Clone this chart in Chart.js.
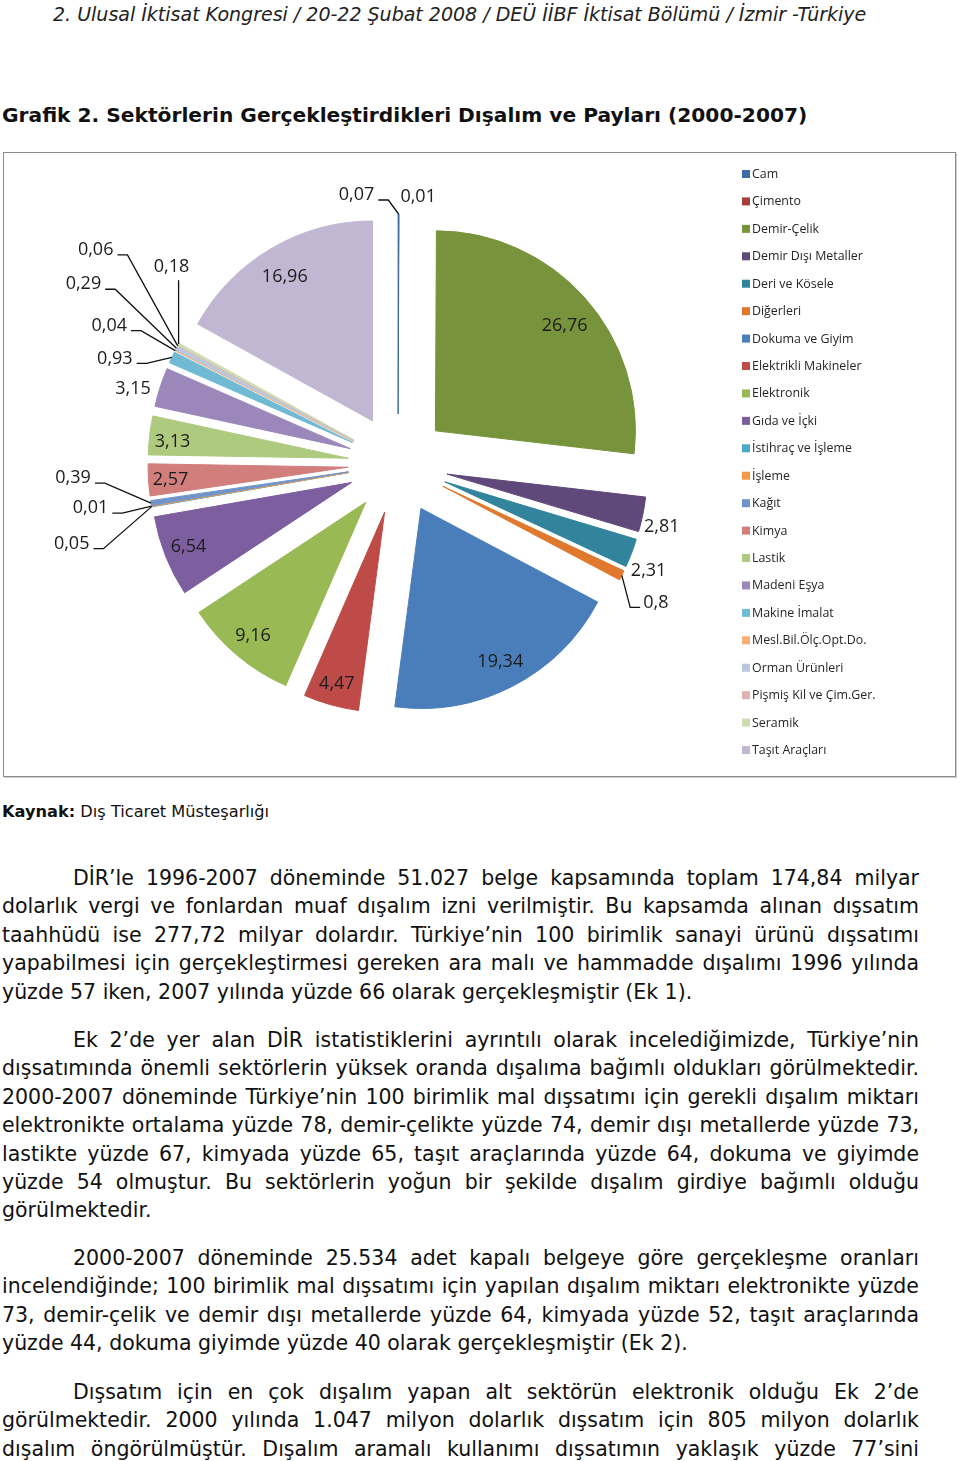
<!DOCTYPE html>
<html lang="tr">
<head>
<meta charset="utf-8">
<script src="https://cdn.jsdelivr.net/npm/chart.js@4.4.1/dist/chart.umd.min.js"></script>
<style>
  html,body{margin:0;padding:0;background:#fff;}
  body{width:960px;height:1461px;position:relative;overflow:hidden;font-family:"DejaVu Sans",Verdana,sans-serif;color:#111;}
  .abs{position:absolute;white-space:nowrap;}
  #head{left:53px;top:2px;font-size:19px;line-height:24px;font-style:italic;color:#222;}
  #title{left:2px;top:102px;font-size:20.2px;line-height:26px;font-weight:bold;}
  #frame{position:absolute;left:3px;top:152px;width:951px;height:623px;border:1px solid #8c8c8c;box-shadow:1px 1px 0 #cfcfcf;}
  #frame canvas{position:absolute;left:0;top:0;}
  #src{left:2px;top:801px;font-size:16.2px;line-height:22px;}
  .par{position:absolute;left:2px;width:917px;font-size:20.5px;line-height:28.4px;}
  .par div{white-space:nowrap;text-align:justify;text-align-last:justify;}
  .par div.first{padding-left:71px;}
  .par div.last{text-align-last:left;}
</style>
</head>
<body>
<div id="head" class="abs">2. Ulusal İktisat Kongresi / 20-22 Şubat 2008 / DEÜ İİBF İktisat Bölümü / İzmir -Türkiye</div>
<div id="title" class="abs">Grafik 2. Sektörlerin Gerçekleştirdikleri Dışalım ve Payları (2000-2007)</div>

<div id="frame"><canvas id="pie" width="951" height="623"></canvas></div>

<div id="src" class="abs"><b>Kaynak:</b> Dış Ticaret Müsteşarlığı</div>

<div class="par" style="top:864px">
  <div class="first">DİR’le 1996-2007 döneminde 51.027 belge kapsamında toplam 174,84 milyar</div>
  <div>dolarlık vergi ve fonlardan muaf dışalım izni verilmiştir. Bu kapsamda alınan dışsatım</div>
  <div>taahhüdü ise 277,72 milyar dolardır. Türkiye’nin 100 birimlik sanayi ürünü dışsatımı</div>
  <div>yapabilmesi için gerçekleştirmesi gereken ara malı ve hammadde dışalımı 1996 yılında</div>
  <div class="last">yüzde 57 iken, 2007 yılında yüzde 66 olarak gerçekleşmiştir (Ek 1).</div>
</div>
<div class="par" style="top:1026px">
  <div class="first">Ek 2’de yer alan DİR istatistiklerini ayrıntılı olarak incelediğimizde, Türkiye’nin</div>
  <div>dışsatımında önemli sektörlerin yüksek oranda dışalıma bağımlı oldukları görülmektedir.</div>
  <div>2000-2007 döneminde Türkiye’nin 100 birimlik mal dışsatımı için gerekli dışalım miktarı</div>
  <div>elektronikte ortalama yüzde 78, demir-çelikte yüzde 74, demir dışı metallerde yüzde 73,</div>
  <div>lastikte yüzde 67, kimyada yüzde 65, taşıt araçlarında yüzde 64, dokuma ve giyimde</div>
  <div>yüzde 54 olmuştur. Bu sektörlerin yoğun bir şekilde dışalım girdiye bağımlı olduğu</div>
  <div class="last">görülmektedir.</div>
</div>
<div class="par" style="top:1244px">
  <div class="first">2000-2007 döneminde 25.534 adet kapalı belgeye göre gerçekleşme oranları</div>
  <div>incelendiğinde; 100 birimlik mal dışsatımı için yapılan dışalım miktarı elektronikte yüzde</div>
  <div>73, demir-çelik ve demir dışı metallerde yüzde 64, kimyada yüzde 52, taşıt araçlarında</div>
  <div class="last">yüzde 44, dokuma giyimde yüzde 40 olarak gerçekleşmiştir (Ek 2).</div>
</div>
<div class="par" style="top:1378px">
  <div class="first">Dışsatım için en çok dışalım yapan alt sektörün elektronik olduğu Ek 2’de</div>
  <div>görülmektedir. 2000 yılında 1.047 milyon dolarlık dışsatım için 805 milyon dolarlık</div>
  <div>dışalım öngörülmüştür. Dışalım aramalı kullanımı dışsatımın yaklaşık yüzde 77’sini</div>
</div>

<script>
// --- data (shares in %, 2000-2007) ---
const sectors = ["Cam","Çimento","Demir-Çelik","Demir Dışı Metaller","Deri ve Kösele","Diğerleri",
  "Dokuma ve Giyim","Elektrikli Makineler","Elektronik","Gıda ve İçki","İstihraç ve İşleme","İşleme",
  "Kağıt","Kimya","Lastik","Madeni Eşya","Makine İmalat","Mesl.Bil.Ölç.Opt.Do.","Orman Ürünleri",
  "Pişmiş Kil ve Çim.Ger.","Seramik","Taşıt Araçları"];
const shares = [0.07, 0.01, 26.76, 2.81, 2.31, 0.8, 19.34, 4.47, 9.16, 6.54, 0.05, 0.01,
  0.39, 2.57, 3.13, 3.15, 0.93, 0.04, 0.29, 0.06, 0.18, 16.96];

const colors = ["#3d6ba6","#a43f3c","#77933c","#5f497a","#31849b","#e0782d",
  "#4a7ebb","#be4b48","#98b954","#7d5fa0","#4aacc5","#f79646",
  "#7094c9","#d27e7c","#aeca7e","#9b87ba","#70bbd3","#f9ad72",
  "#b7c8e0","#e2b3b2","#cdddb3","#c1b7d3"];

// label placement per slice: r = fraction of radius along bisector (+ optional sx/sy nudge),
// dx/dy = offset from the slice tip, with a leader line on the given side
const labelLayout = [
  {dx:-42,dy:-19,side:"left"}, {dx:19,dy:-17,side:"none"}, {r:0.85,sx:2,sy:8}, {dx:19,dy:12,side:"none"},
  {dx:17,dy:18,side:"none"}, {dx:34,dy:27,side:"right"}, {r:0.865}, {r:0.89}, {r:0.876}, {r:0.877},
  {dx:-80,dy:37,side:"left"}, {dx:-61,dy:2,side:"left"}, {dx:-78,dy:-25,side:"left"},
  {r:0.89,sy:1}, {r:0.885,sy:4}, {dx:-27,dy:2,side:"none"},
  {dx:-57,dy:1,side:"left"}, {dx:-66,dy:-25,side:"left"}, {dx:-93,dy:-64,side:"left"},
  {dx:-82,dy:-96,side:"left"}, {dx:-7,dy:-77,side:"above"}, {r:0.845,sx:-2,sy:2}
];

const EXPLODE = 50;
const fmt = v => String(v).replace(".", ",");

// push every slice out along its bisector (Excel style exploded pie)
const explodePlugin = {
  id: "explode",
  afterDatasetsUpdate(chart){
    const meta = chart.getDatasetMeta(0);
    const area = chart.chartArea;
    const cx = (area.left + area.right)/2 + meta.controller.offsetX;
    const cy = (area.top + area.bottom)/2 + meta.controller.offsetY;
    meta.data.forEach(arc => {
      const mid = (arc.startAngle + arc.endAngle)/2;
      arc.x = cx + Math.cos(mid)*EXPLODE;
      arc.y = cy + Math.sin(mid)*EXPLODE;
    });
  }
};

const labelPlugin = {
  id: "sliceLabels",
  afterDatasetsDraw(chart){
    const ctx = chart.ctx;
    const meta = chart.getDatasetMeta(0);
    ctx.save();
    ctx.font = '18px "Open Sans", sans-serif';
    ctx.textAlign = "center";
    ctx.textBaseline = "middle";
    ctx.fillStyle = "#1c1c1c";
    ctx.strokeStyle = "#111";
    ctx.lineWidth = 1.3;
    meta.data.forEach((arc, i) => {
      const mid = (arc.startAngle + arc.endAngle)/2;
      const c = Math.cos(mid), s = Math.sin(mid);
      const R = arc.outerRadius;
      const txt = fmt(shares[i]);
      const lay = labelLayout[i];
      let lx, ly;
      if(lay.r !== undefined){
        lx = arc.x + c*R*lay.r + (lay.sx || 0);
        ly = arc.y + s*R*lay.r + (lay.sy || 0);
      } else {
        const tx = arc.x + c*R, ty = arc.y + s*R;
        lx = tx + lay.dx;
        ly = ty + lay.dy;
        const w = ctx.measureText(txt).width;
        ctx.beginPath();
        if(lay.side === "left"){
          const ax = lx + w/2 + 4, ay = ly + 5;
          ctx.moveTo(ax, ay); ctx.lineTo(ax + 10, ay); ctx.lineTo(tx, ty);
        } else if(lay.side === "right"){
          const ax = lx - w/2 - 3, ay = ly + 5;
          ctx.moveTo(ax, ay); ctx.lineTo(ax - 10, ay); ctx.lineTo(tx, ty);
        } else if(lay.side === "above"){
          ctx.moveTo(tx, ly + 13); ctx.lineTo(tx, ty);
        }
        ctx.stroke();
      }
      ctx.fillText(txt, lx, ly);
    });
    ctx.restore();
  }
};

// legend column on the right
const legendPlugin = {
  id: "sideLegend",
  afterDraw(chart){
    const ctx = chart.ctx;
    const x0 = 738, y0 = 21, step = 27.43;
    ctx.save();
    ctx.font = '12.4px "Open Sans", sans-serif';
    ctx.textBaseline = "middle";
    chart.data.labels.forEach((lab, i) => {
      const y = y0 + i*step;
      ctx.fillStyle = chart.data.datasets[0].backgroundColor[i];
      ctx.fillRect(x0, y - 4, 8, 8);
      ctx.fillStyle = "#262626";
      ctx.fillText(lab, x0 + 10, y + 0.5);
    });
    ctx.restore();
  }
};

new Chart(document.getElementById("pie").getContext("2d"), {
  type: "pie",
  data: {
    labels: sectors,
    datasets: [{
      data: shares, backgroundColor: colors, borderColor: colors, radius: 200,
      borderWidth: c => c.dataIndex === 1 ? 0 : 1
    }]
  },
  options: {
    responsive: false,
    animation: false,
    events: [],
    layout: {padding: {left: 0, top: 0, right: 163, bottom: 1}},
    plugins: {legend: {display: false}, tooltip: {enabled: false}}
  },
  plugins: [explodePlugin, labelPlugin, legendPlugin]
});
</script>
</body>
</html>
